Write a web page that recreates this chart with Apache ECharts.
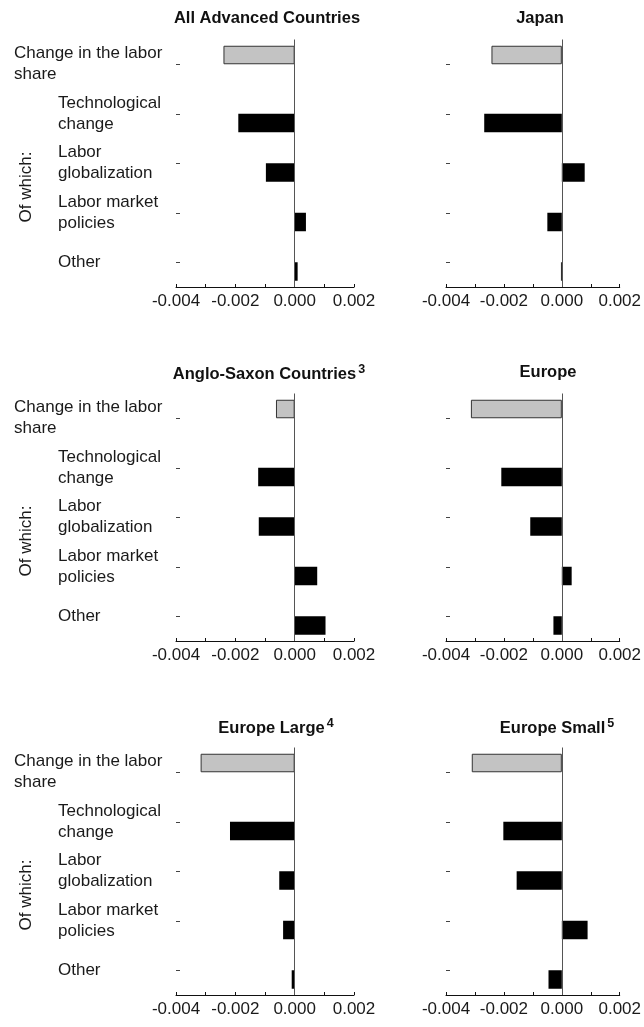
<!DOCTYPE html>
<html>
<head>
<meta charset="utf-8">
<script src="https://cdn.jsdelivr.net/npm/echarts@6/dist/echarts.min.js"></script>
<style>
  html, body { margin: 0; padding: 0; background: #fff; }
  #main { width: 644px; height: 1027px; }
</style>
</head>
<body>
<div id="main"></div>
<script>
// categories (top to bottom)
const categories = ['Change in the labor\nshare', 'Technological\nchange', 'Labor\nglobalization', 'Labor market\npolicies', 'Other'];

// panel titles and footnote marks
const panelNames = ['All Advanced Countries', 'Japan', 'Anglo-Saxon Countries', 'Europe', 'Europe Large', 'Europe Small'];
const panelNotes = ['', '', '3', '', '4', '5'];

// values per panel, same order as categories
const allAdvanced = [-0.0024, -0.0019, -0.00097, 0.00038, 0.0001];
const japan = [-0.00243, -0.00268, 0.00079, -0.0005, -0.00003];
const angloSaxon = [-0.00063, -0.00123, -0.00121, 0.00076, 0.00104];
const europe = [-0.00314, -0.00209, -0.00109, 0.00034, -0.00029];
const europeLarge = [-0.00317, -0.00218, -0.00052, -0.00039, -0.0001];
const europeSmall = [-0.00311, -0.00202, -0.00156, 0.00089, -0.00046];
const panelValues = [allAdvanced, japan, angloSaxon, europe, europeLarge, europeSmall];

// x axis ticks
const xMin = -0.004, xMax = 0.002, xStep = 0.001;

// layout
const colLeft = [176, 446];
const colWidth = [178, 179];
const rowTop = [39.5, 393.5, 747.5];
const gridHeight = 247.5;
const titleX = [267, 540, 269, 548, 276, 557];
const ofWhichY = 187;
const rowStep = 354;

const labelFont = 'Liberation Sans, Arial, sans-serif';
const titleFont = 'Liberation Sans, Arial, sans-serif';

const myChart = echarts.init(document.getElementById('main'));

let grids = [], xAxes = [], yAxes = [], series = [], titles = [], graphics = [];

panelValues.forEach(function (vals, i) {
  const col = i % 2, row = Math.floor(i / 2);
  grids.push({ left: colLeft[col], width: colWidth[col], top: rowTop[row], height: gridHeight });

  // title with optional superscript note
  let t = '{t|' + panelNames[i] + '}';
  if (panelNotes[i]) t += '{s|' + panelNotes[i] + '}';
  titles.push({
    text: t,
    left: titleX[i],
    top: rowTop[row] - 30,
    textAlign: 'center',
    padding: 0,
    textStyle: {
      rich: {
        t: { fontFamily: titleFont, fontWeight: 'bold', fontSize: 16.5, color: '#111' },
        s: { fontFamily: titleFont, fontWeight: 'bold', fontSize: 12.5, color: '#111', padding: [0, 0, 8, 2] }
      }
    }
  });

  xAxes.push({
    gridIndex: i,
    type: 'value',
    min: xMin, max: xMax, interval: xStep,
    axisLine: { show: true, onZero: false, lineStyle: { color: '#111', width: 1 } },
    axisTick: { show: true, inside: true, length: 3, lineStyle: { color: '#111' } },
    splitLine: { show: false },
    axisLabel: {
      margin: 6,
      fontFamily: labelFont, fontSize: 17, color: '#1a1a1a',
      formatter: function (v) {
        if (Math.abs(v) < 1e-9) return '0.000';
        return Math.round(v * 1000) % 2 === 0 ? v.toFixed(3) : '';
      }
    }
  });

  yAxes.push({
    gridIndex: i,
    type: 'category',
    inverse: true,
    data: categories,
    axisLine: { show: false, onZero: false },
    axisTick: { show: true, alignWithLabel: true, inside: true, length: 4, lineStyle: { color: '#444' } },
    axisLabel: {
      show: col === 0,
      align: 'left',
      margin: 162,
      formatter: function (v, idx) {
        const key = idx === 0 ? 'a' : 'b';
        return v.split('\n').map(function (s) { return '{' + key + '|' + s + '}'; }).join('\n');
      },
      rich: {
        a: { fontFamily: labelFont, fontSize: 17, color: '#1a1a1a', lineHeight: 21 },
        b: { fontFamily: labelFont, fontSize: 17, color: '#1a1a1a', lineHeight: 21, padding: [0, 0, 0, 44] }
      }
    }
  });

  // gray bar sits in the upper half of its band, black bars in the lower half
  series.push({
    type: 'bar',
    xAxisIndex: i, yAxisIndex: i,
    barWidth: 18.5, barGap: '0%',
    data: vals.map(function (v, k) { return k === 0 ? v : '-'; }),
    itemStyle: { color: '#c3c3c3', borderColor: '#333', borderWidth: 1 }
  });
  series.push({
    type: 'bar',
    xAxisIndex: i, yAxisIndex: i,
    barWidth: 18.5, barGap: '0%',
    data: vals.map(function (v, k) { return k === 0 ? '-' : v; }),
    itemStyle: { color: '#000' },
    markLine: {
      silent: true, symbol: 'none',
      label: { show: false },
      lineStyle: { color: '#555', type: 'solid', width: 1 },
      data: [{ xAxis: 0 }]
    }
  });
});

// "Of which:" vertical labels on the left column
for (let r = 0; r < 3; r++) {
  graphics.push({
    type: 'text',
    x: 26, y: ofWhichY + r * rowStep,
    rotation: Math.PI / 2,
    style: {
      text: 'Of which:',
      fontFamily: labelFont, fontSize: 17, fill: '#1a1a1a',
      align: 'center', verticalAlign: 'middle'
    }
  });
}

myChart.setOption({
  backgroundColor: '#fff',
  animation: false,
  title: titles,
  grid: grids,
  xAxis: xAxes,
  yAxis: yAxes,
  series: series,
  graphic: graphics
});
</script>
</body>
</html>
